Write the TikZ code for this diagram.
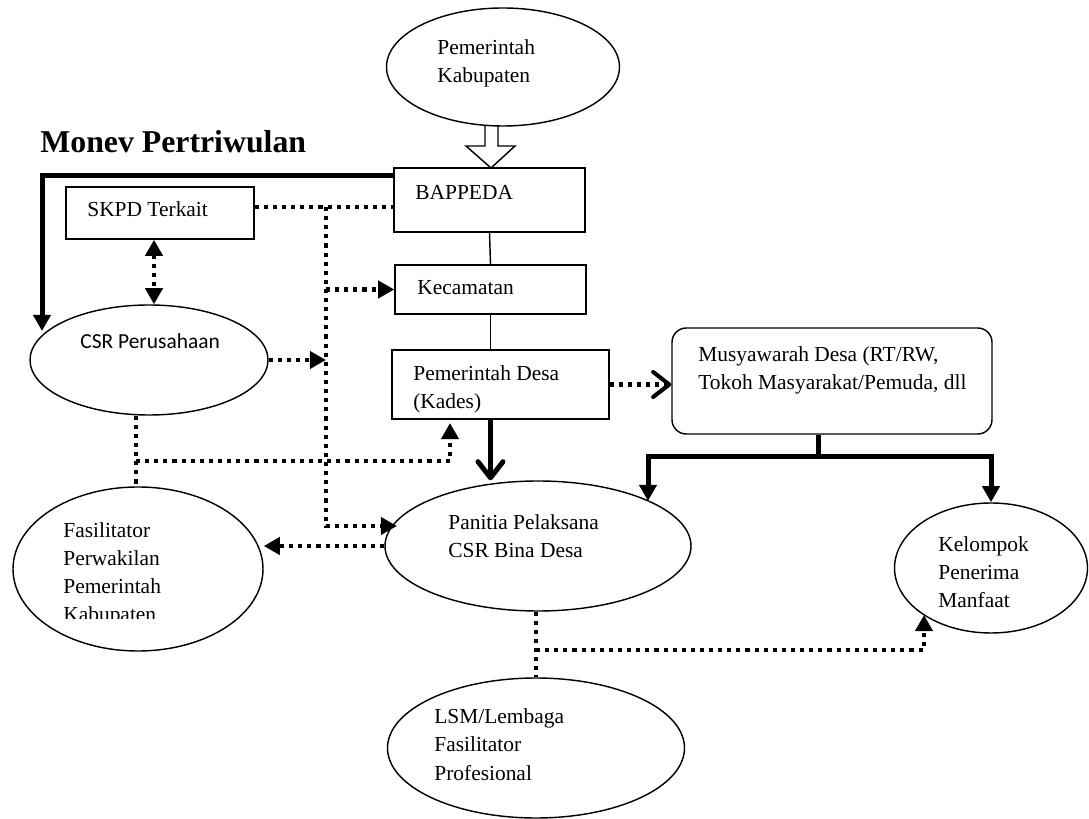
\documentclass[tikz,border=0pt]{standalone}
\usepackage{fontspec}
\setmainfont{Liberation Serif}
\newfontfamily\calfont{Carlito}
\usetikzlibrary{shapes.geometric, arrows.meta}

\newcommand{\unitpx}{0.56pt}

\tikzset{
  box/.style={draw, line width=0.8pt, rectangle, inner sep=0pt},
  oval/.style={draw, line width=0.8pt, ellipse, inner sep=0pt},
  txt/.style={anchor=base west, inner sep=0pt, align=left, font=\fontsize{12}{15.7}\selectfont},
  thinline/.style={line width=0.8pt},
  thickline/.style={line width=2.8pt},
  dotline/.style={line width=2.3pt, dash pattern=on 2.3pt off 2.8pt},
  tri/.tip={Triangle[length=9pt, width=9.5pt]},
  barb/.tip={Straight Barb[length=9pt, width=14pt, round]},
}

\begin{document}
\begin{tikzpicture}[x=\unitpx, y=-\unitpx]
  \useasboundingbox (0,0) rectangle (1089,819);

  % boxes and ovals
  \node[oval, minimum width=233*\unitpx, minimum height=118*\unitpx] (kab) at (503,67) {};
  \node[box, minimum width=191*\unitpx, minimum height=64*\unitpx] (bap) at (489.5,200) {};
  \node[box, minimum width=188*\unitpx, minimum height=52*\unitpx] (skpd) at (160,213) {};
  \node[box, minimum width=191*\unitpx, minimum height=49*\unitpx] (kec) at (490.5,289.5) {};
  \node[box, minimum width=217*\unitpx, minimum height=69*\unitpx] (desa) at (500.5,384.5) {};
  \node[box, rounded corners=8pt, minimum width=320*\unitpx, minimum height=106*\unitpx] (musy) at (832,381) {};
  \node[oval, minimum width=238*\unitpx, minimum height=110*\unitpx] (csr) at (149,360) {};
  \node[oval, minimum width=250*\unitpx, minimum height=164*\unitpx] (fas) at (138,569) {};
  \node[oval, minimum width=306*\unitpx, minimum height=130*\unitpx] (pan) at (538,546) {};
  \node[oval, minimum width=193*\unitpx, minimum height=130*\unitpx] (kel) at (991,568) {};
  \node[oval, minimum width=297*\unitpx, minimum height=140*\unitpx] (lsm) at (536,748) {};

  % texts (multi-line ones sit on their last line)
  \node[anchor=base west, inner sep=0pt, font=\fontsize{17.8}{20}\selectfont\bfseries] (monev) at (40,153) {Monev Pertriwulan};
  \node[txt] (kabT) at (437,83) {Pemerintah\\Kabupaten};
  \node[txt] (bapT) at (415,200) {BAPPEDA};
  \node[txt] (skpdT) at (87,217) {SKPD Terkait};
  \node[txt] (kecT) at (417,295) {Kecamatan};
  \node[txt] (desaT) at (413,409) {Pemerintah Desa\\(Kades)};
  \node[txt] (musyT) at (698,390) {Musyawarah Desa (RT/RW,\\Tokoh Masyarakat/Pemuda, dll};
  \node[txt, font=\calfont\fontsize{12}{15.7}\selectfont] (csrT) at (80,349) {CSR Perusahaan};
  \begin{scope}
    \clip (0,470) rectangle (300,619);
    \node[txt] (fasT) at (63,622) {Fasilitator\\Perwakilan\\Pemerintah\\Kabupaten};
  \end{scope}
  \node[txt] (panT) at (448,558) {Panitia Pelaksana\\CSR Bina Desa};
  \node[txt] (kelT) at (938,608) {Kelompok\\Penerima\\Manfaat};
  \node[txt] (lsmT) at (434,780) {LSM/Lembaga\\Fasilitator\\Profesional};

  % helper points
  \coordinate (monevTop) at (42,176);
  \coordinate (csrIn) at (42,331);
  \coordinate (trunk) at (326,207);
  \coordinate (panLeft) at (397,526);
  \coordinate (sk) at (154,0);
  \coordinate (fork) at (818,457);
  \coordinate (panIn) at (648,501);
  \coordinate (facX) at (136,461);
  \coordinate (desaUp) at (450,423);
  \coordinate (lsmX) at (536,650);
  \coordinate (kelIn) at (924,615);

  % hollow arrow
  \draw[thinline] (485,126) -- (485,146) -- (466,146) -- (491,168) -- (515,146) -- (498,146) -- (498,126);

  % connectors
  \draw[thickline, -tri] (bap.west |- monevTop) -- (monevTop) -- (csrIn);
  \draw[dotline] (skpd.east |- trunk) -- (bap.west |- trunk);
  \draw[dotline, -tri] (trunk) |- (panLeft);
  \draw[dotline, -tri] (trunk |- kec.west) -- (kec.west);
  \draw[dotline, tri-tri] (skpd.south -| sk) -- (csr.north -| sk);
  \draw[dotline, -tri] (csr.east) -- (csr.east -| trunk);
  \draw[thinline] (bap.south) -- (kec.north);
  \draw[thinline] (kec.south) -- (kec.south |- desa.north);
  \draw[thickline, -barb] (kec.south |- desa.south) -- (kec.south |- pan.north);
  \draw[dotline, -barb] (desa.east) -- (desa.east -| musy.west);
  \draw[thickline] (fork |- musy.south) -- (fork);
  \draw[thickline, -tri] (fork) -| (panIn);
  \draw[thickline, -tri] (fork) -| (kel.north);
  \draw[dotline] (csr.south -| facX) -- (fas.north -| facX);
  \draw[dotline, -tri] (facX) -| (desaUp);
  \draw[dotline, -tri] (pan.west) -- (pan.west -| fas.east);
  \draw[dotline] (pan.south -| lsmX) -- (lsm.north -| lsmX);
  \draw[dotline, -tri] (lsmX) -| (kelIn);
\end{tikzpicture}
\end{document}
